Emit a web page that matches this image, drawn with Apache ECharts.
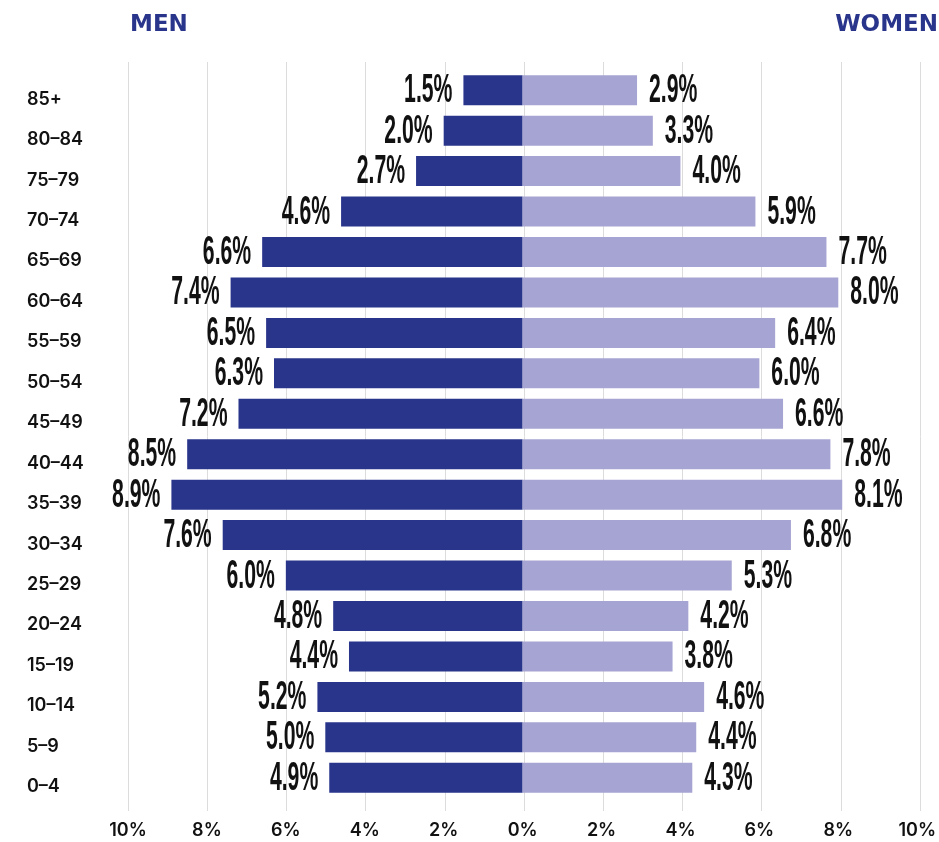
<!DOCTYPE html>
<html>
<head>
<meta charset="utf-8">
<script src="https://cdn.jsdelivr.net/npm/echarts@6/dist/echarts.min.js"></script>
<style>html,body{margin:0;padding:0;background:#fff}#c{width:939px;height:842px}</style>
</head>
<body>
<div id="c"></div>
<script>
// Data (top to bottom as shown)
const ageGroups = ['85+','80–84','75–79','70–74','65–69','60–64','55–59','50–54','45–49','40–44','35–39','30–34','25–29','20–24','15–19','10–14','5–9','0–4'];
const menValues = [1.5, 2.0, 2.7, 4.6, 6.6, 7.4, 6.5, 6.3, 7.2, 8.5, 8.9, 7.6, 6.0, 4.8, 4.4, 5.2, 5.0, 4.9];
const womenValues = [2.9, 3.3, 4.0, 5.9, 7.7, 8.0, 6.4, 6.0, 6.6, 7.8, 8.1, 6.8, 5.3, 4.2, 3.8, 4.6, 4.4, 4.3];
const xTicks = [-10, -8, -6, -4, -2, 0, 2, 4, 6, 8, 10];
const sideTitles = ['MEN', 'WOMEN'];

const MEN_COLOR = '#29348B';
const WOMEN_COLOR = '#A6A4D2';

const chart = echarts.init(document.getElementById('c'), null, {renderer: 'canvas'});

const labelData = [];
ageGroups.forEach((g, i) => {
  labelData.push([-menValues[i], i]);
  labelData.push([womenValues[i], i]);
});

function renderLabel(params, api) {
  const v = api.value(0);
  const idx = api.value(1);
  const p = api.coord([v, idx]);
  const neg = v < 0;
  return {
    type: 'text',
    x: p[0] + (neg ? -11 : 12),
    y: p[1] + 1,
    scaleX: 0.53,
    style: {
      text: Math.abs(v).toFixed(1) + '%',
      font: 'bold 40px "Liberation Sans Narrow", "Liberation Sans", sans-serif',
      fill: '#111111',
      align: neg ? 'right' : 'left',
      verticalAlign: 'middle'
    }
  };
}

const titleStyle = {color: MEN_COLOR, fontSize: 23, fontWeight: 'bold', fontFamily: '"DejaVu Sans", sans-serif'};

const option = {
  animation: false,
  backgroundColor: '#ffffff',
  title: [
    {text: sideTitles[0], left: 125, top: 9, textStyle: titleStyle},
    {text: sideTitles[1], right: -4, top: 9, textStyle: titleStyle}
  ],
  grid: [
    {left: 128, right: 19, top: 70, bottom: 44, containLabel: false},
    {left: 128, right: 19, top: 62, bottom: 31, containLabel: false}
  ],
  xAxis: [
    {
      type: 'value', gridIndex: 0, min: -10, max: 10, interval: 2,
      axisLine: {show: false}, axisTick: {show: false}, splitLine: {show: false},
      axisLabel: {
        margin: 24,
        formatter: v => Math.abs(v) + '%',
        color: '#111', fontSize: 18, fontWeight: 600, fontFamily: 'Inter, Roboto, sans-serif'
      }
    },
    {
      type: 'value', gridIndex: 1, min: -10, max: 10, interval: 2,
      axisLine: {show: false}, axisTick: {show: false}, axisLabel: {show: false},
      splitLine: {show: true, lineStyle: {color: '#dcdcdc', width: 1}}
    }
  ],
  yAxis: [
    {
      type: 'category', gridIndex: 0, data: ageGroups, inverse: true,
      axisLine: {show: false}, axisTick: {show: false}, splitLine: {show: false},
      axisLabel: {
        align: 'left', margin: 101, verticalAlign: 'top', lineHeight: 18,
        color: '#111', fontSize: 18, fontWeight: 600, fontFamily: 'Inter, Roboto, sans-serif'
      }
    },
    {
      type: 'value', gridIndex: 1, min: 0, max: 1, show: false
    }
  ],
  series: [
    {
      name: 'Men', type: 'bar', xAxisIndex: 0, yAxisIndex: 0,
      data: menValues.map(v => -v), barWidth: 30, barGap: '-100%',
      itemStyle: {color: MEN_COLOR}, z: 3
    },
    {
      name: 'Women', type: 'bar', xAxisIndex: 0, yAxisIndex: 0,
      data: womenValues, barWidth: 30, barGap: '-100%',
      itemStyle: {color: WOMEN_COLOR}, z: 3
    },
    {
      name: 'labels', type: 'custom', xAxisIndex: 0, yAxisIndex: 0,
      data: labelData, renderItem: renderLabel, z: 5, silent: true,
      encode: {x: 0, y: 1}
    }
  ]
};
chart.setOption(option);
</script>
</body>
</html>
